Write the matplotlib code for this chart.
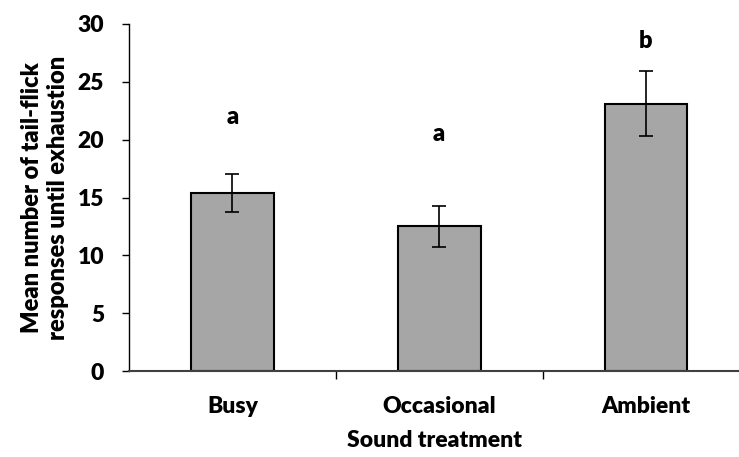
import matplotlib
matplotlib.use("Agg")
import matplotlib.pyplot as plt

# data
treatments = ["Busy", "Occasional", "Ambient"]
means = [15.4, 12.5, 23.1]
errors = [1.67, 1.8, 2.8]
letters = ["a", "a", "b"]
letter_y = [21.0, 19.5, 27.6]

plt.rcParams['font.family'] = ['Lato', 'DejaVu Sans']
plt.rcParams['font.weight'] = 'heavy'

fig = plt.figure(figsize=(7.39, 4.57), dpi=100)
ax = fig.add_axes([0.1746, 0.188, 0.8254, 0.7595])

x = range(len(treatments))
ax.bar(x, means, width=0.4, color="#a6a6a6", edgecolor="black", linewidth=1.5, zorder=2)
ax.errorbar(x, means, yerr=errors, fmt="none", ecolor="black", elinewidth=1.2,
            capsize=5, capthick=1.2, zorder=3)

for i in x:
    ax.text(i, letter_y[i], letters[i], ha="center", va="bottom", fontsize=17, fontweight="heavy")

ax.set_xlim(-0.5, 2.45)
ax.set_ylim(0, 30)
ax.set_yticks([0, 5, 10, 15, 20, 25, 30])

ax.set_xticks(list(x))
ax.set_xticklabels(treatments, fontsize=16.5, fontweight="heavy")
ax.set_xticks([0.5, 1.5], minor=True)
ax.tick_params(axis="x", which="major", length=0, pad=18)
ax.tick_params(axis="x", which="minor", length=6, width=1, direction="out")
ax.tick_params(axis="y", length=5, width=1, direction="out", pad=13, labelsize=16.5)
for lbl in ax.get_yticklabels():
    lbl.set_fontweight("heavy")

ax.spines["top"].set_visible(False)
ax.spines["right"].set_visible(False)
ax.spines["left"].set_linewidth(1)
ax.spines["bottom"].set_linewidth(1.5)
ax.spines["bottom"].set_color("#404040")

ax.set_xlabel("Sound treatment", fontsize=16.5, fontweight="heavy", labelpad=9)
ax.set_ylabel("Mean number of tail-flick\nresponses until exhaustion", fontsize=17,
              fontweight="heavy", labelpad=6, linespacing=1.25)

fig.savefig("out.png", dpi=100)
